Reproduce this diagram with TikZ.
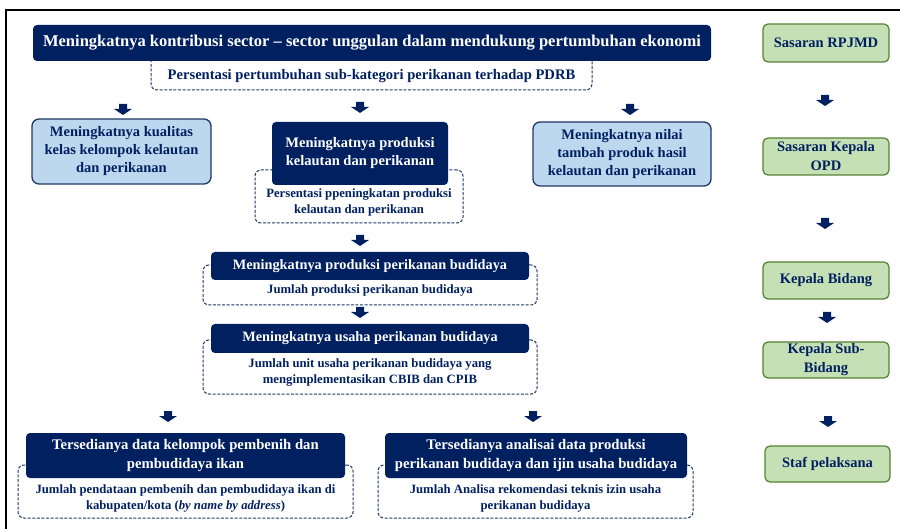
\documentclass[tikz,border=0pt]{standalone}
\usepackage{fontspec}
\setmainfont{Liberation Serif}
\definecolor{navy}{HTML}{002060}
\definecolor{dashnavy}{HTML}{1F3864}
\definecolor{lightblue}{HTML}{BDD7EE}
\definecolor{lightgreen}{HTML}{C5E0B4}
\definecolor{darkgreen}{HTML}{548235}
\tikzset{
  darkbox/.style={fill=navy, text=white, rounded corners=4pt, align=center, inner sep=0pt,
    font=\bfseries\fontsize{14.7}{19}\selectfont},
  bluebox/.style={fill=lightblue, draw=dashnavy, line width=1.3pt, rounded corners=7pt,
    text=navy, align=center, inner sep=0pt, font=\bfseries\fontsize{14.5}{18}\selectfont},
  greenbox/.style={fill=lightgreen, draw=darkgreen, line width=1.2pt, rounded corners=5pt,
    text=navy, align=center, inner sep=0pt, minimum width=126pt,
    font=\bfseries\fontsize{14.5}{19}\selectfont},
  dashbox/.style={draw=dashnavy, dash pattern=on 3pt off 1.6pt, line width=1pt, rounded corners=6pt, inner sep=0pt},
  dashtxt/.style={text=navy, align=center, inner sep=0pt, font=\bfseries\fontsize{12.7}{16}\selectfont},
  downarr/.pic={\fill[navy] (-4,0) -- (4,0) -- (4,5) -- (9,5) -- (0,11) -- (-9,5) -- (-4,5) -- cycle;}
}
\begin{document}
\begin{tikzpicture}[x=1pt,y=-1pt]
    % \draw[help lines,step=50] (0,0) grid (900,529);
    \useasboundingbox (0,0) rectangle (900,529);
    \draw[line width=1.5pt] (6,529) -- (6,10) -- (900,10);

    % kolom kiri
    \node[dashbox, minimum width=441pt, minimum height=40pt] (ind1) at (371.5,70) {};
    \node[dashtxt, font=\bfseries\fontsize{14.6}{18}\selectfont] (ind1t) at (371.5,76)
        {Persentasi pertumbuhan sub-kategori perikanan terhadap PDRB};
    \node[darkbox, minimum width=678pt, minimum height=36pt, font=\bfseries\fontsize{16.5}{20}\selectfont]
        (tujuan) at (372,43) {Meningkatnya kontribusi sector -- sector unggulan dalam mendukung pertumbuhan ekonomi};

    \pic at (123,104) {downarr};
    \pic at (360,102) {downarr};
    \pic at (630,104) {downarr};

    \node[bluebox, minimum width=179pt, minimum height=65pt] (kualitas) at (121.5,151.5)
        {Meningkatnya kualitas\\kelas kelompok kelautan\\dan perikanan};
    \node[dashbox, minimum width=208pt, minimum height=53pt] (ind2) at (359,196.5) {};
    \node[dashtxt] (ind2t) at (359,202)
        {Persentasi ppeningkatan produksi\\kelautan dan perikanan};
    \node[darkbox, minimum width=176pt, minimum height=63pt, font=\bfseries\fontsize{14.5}{18}\selectfont]
        (produksi) at (360,153.5) {Meningkatnya produksi\\kelautan dan perikanan};
    \node[bluebox, minimum width=178pt, minimum height=64pt] (nilai) at (622,154)
        {Meningkatnya nilai\\tambah produk hasil\\kelautan dan perikanan};

    \pic at (360,235) {downarr};
    \node[dashbox, minimum width=334pt, minimum height=40pt] (ind3) at (370,285) {};
    \node[dashtxt] (ind3t) at (370,290) {Jumlah produksi perikanan budidaya};
    \node[darkbox, minimum width=318pt, minimum height=28pt, font=\bfseries\fontsize{14.3}{18}\selectfont]
        (budidaya) at (370,266) {Meningkatnya produksi perikanan budidaya};

    \pic at (360,307) {downarr};
    \node[dashbox, minimum width=334pt, minimum height=54pt] (ind4) at (370,367) {};
    \node[dashtxt] (ind4t) at (370,372)
        {Jumlah unit usaha perikanan budidaya yang\\mengimplementasikan CBIB dan CPIB};
    \node[darkbox, minimum width=318pt, minimum height=29pt, font=\bfseries\fontsize{14.3}{18}\selectfont]
        (usaha) at (370,338.5) {Meningkatnya usaha perikanan budidaya};

    \pic at (168,411) {downarr};
    \pic at (533,411) {downarr};
    \node[dashbox, minimum width=335pt, minimum height=53pt] (ind5) at (185.5,491.5) {};
    \node[dashtxt] (ind5t) at (185.5,498)
        {Jumlah pendataan pembenih dan pembudidaya ikan di\\kabupaten/kota  (\textit{by name by address})};
    \node[darkbox, minimum width=319pt, minimum height=45pt] (data) at (185.5,455.5)
        {Tersedianya data kelompok pembenih dan\\pembudidaya ikan};
    \node[dashbox, minimum width=315pt, minimum height=53pt] (ind6) at (535.5,491.5) {};
    \node[dashtxt] (ind6t) at (535.5,498)
        {Jumlah Analisa rekomendasi teknis izin usaha\\perikanan budidaya};
    \node[darkbox, minimum width=302pt, minimum height=45pt] (analisa) at (536,455.5)
        {Tersedianya analisai data produksi\\perikanan budidaya dan ijin usaha budidaya};

    % kolom kanan
    \node[greenbox, minimum height=38pt] (rpjmd) at (826,43) {Sasaran RPJMD};
    \pic at (825,95) {downarr};
    \node[greenbox, minimum height=37pt] (kaopd) at (826,156.5) {Sasaran Kepala\\OPD};
    \pic at (825,218) {downarr};
    \node[greenbox, minimum height=37pt] (kabid) at (826,280.5) {Kepala Bidang};
    \pic at (827,312) {downarr};
    \node[greenbox, minimum height=36pt] (kasubid) at (826,360) {Kepala Sub-\\Bidang};
    \pic at (828,416) {downarr};
    \node[greenbox, minimum width=125pt, minimum height=36pt] (staf) at (827.5,464) {Staf pelaksana};

\end{tikzpicture}
\end{document}
